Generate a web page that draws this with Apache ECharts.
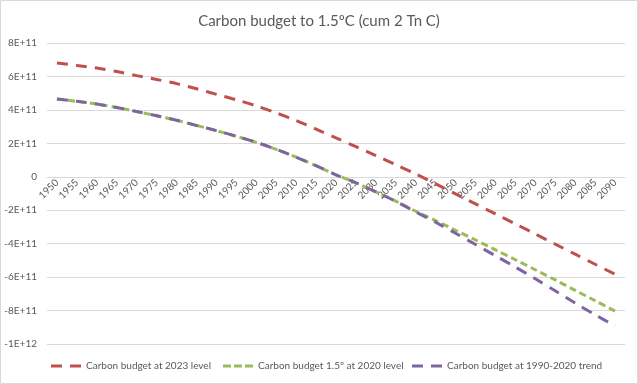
<!DOCTYPE html>
<html><head><meta charset="utf-8">
<script src="https://cdn.jsdelivr.net/npm/echarts@6/dist/echarts.min.js"></script>
<style>html,body{margin:0;padding:0;background:#fff}#c{width:638px;height:384px}</style>
</head><body><div id="c"></div>
<script>
const years = [];
for (let y = 1950; y <= 2090; y += 5) years.push(String(y));
// values in units of 1E11 (tonnes C)
const red2023 = [6.8,6.66,6.5,6.29,6.05,5.82,5.57,5.26,4.93,4.6,4.24,3.82,3.36,2.85,2.32,1.8,1.27,0.72,0.17,-0.42,-1.02,-1.62,-2.22,-2.82,-3.42,-4.03,-4.63,-5.23,-5.83];
const green2020 = [4.65,4.51,4.35,4.14,3.9,3.65,3.38,3.07,2.76,2.42,2.06,1.64,1.17,0.66,0.12,-0.36,-0.9,-1.46,-2.06,-2.62,-3.2,-3.78,-4.37,-4.96,-5.56,-6.17,-6.79,-7.41,-8.03];
const purpleTrend = [4.65,4.51,4.35,4.14,3.9,3.65,3.38,3.07,2.76,2.42,2.06,1.64,1.17,0.66,0.12,-0.36,-0.9,-1.47,-2.1,-2.72,-3.38,-4.05,-4.72,-5.4,-6.1,-6.82,-7.55,-8.25,-8.92];
const seriesNames = ['Carbon budget at 2023 level','Carbon budget 1.5º at 2020 level','Carbon budget at 1990-2020 trend'];
const scale = 1e11;
const toAbs = a => a.map(v => v * scale);

const chart = echarts.init(document.getElementById('c'));
const txt = '#595959';
const font = 'Lato, "Open Sans", sans-serif';
const colors = ['#C0504D', '#9BBB59', '#8064A2'];
function mk(name, data, color, dash) {
  return {
    name, type: 'line', data: toAbs(data), smooth: 0.3, symbol: 'none', showSymbol: false,
    lineStyle: { color, width: 3, type: dash, cap: 'butt' },
    itemStyle: { color }
  };
}
const longDashIcon = 'path://M0,0 H11 V3 H0 Z M19,0 H30 V3 H19 Z';
const shortDashIcon = 'path://M0,0 H8 V3 H0 Z M11,0 H19 V3 H11 Z M22,0 H30 V3 H22 Z';
function lg(name, left, icon) {
  return {
    top: 361, left, itemWidth: 30, itemHeight: 3, itemGap: 0, padding: 0,
    icon, textStyle: { color: txt, fontSize: 10, fontFamily: font, padding: [0, 0, 0, 0] },
    data: [name], selectedMode: false
  };
}
const gridTop = 43, gridBottom = 40, H = 384;
const yMin = -1e12, yMax = 8e11;
const plotH = H - gridTop - gridBottom;
const zeroOffset = -plotH * (0 - yMin) / (yMax - yMin);
chart.setOption({
  animation: false,
  textStyle: { fontFamily: font },
  graphic: [{ type: 'rect', shape: { x: 0.5, y: 0.5, width: 637, height: 383 }, style: { fill: 'none', stroke: '#d9d9d9', lineWidth: 1 }, silent: true }],
  title: {
    text: 'Carbon budget to 1.5ºC (cum 2 Tn C)', left: 'center', top: 9,
    textStyle: { color: txt, fontSize: 15, fontWeight: 'normal', fontFamily: font }
  },
  legend: [
    lg(seriesNames[0], 51, longDashIcon),
    lg(seriesNames[1], 223, shortDashIcon),
    lg(seriesNames[2], 412, longDashIcon)
  ],
  grid: { left: 47, right: 13, top: gridTop, bottom: gridBottom, containLabel: false },
  xAxis: {
    type: 'category', data: years, boundaryGap: true, position: 'bottom', offset: zeroOffset,
    axisLine: { onZero: false, lineStyle: { color: '#d9d9d9', width: 1 } },
    axisTick: { show: false },
    axisLabel: { rotate: 45, interval: 0, color: txt, fontSize: 10, margin: 4, fontFamily: font },
    splitLine: { show: false }
  },
  yAxis: {
    type: 'value', min: yMin, max: yMax, interval: 2e11,
    axisLine: { show: false }, axisTick: { show: false },
    axisLabel: { color: txt, fontSize: 10, margin: 10, fontFamily: font,
      formatter: v => v === 0 ? '0' : Number(v).toExponential().toUpperCase() },
    splitLine: { lineStyle: { color: '#d9d9d9', width: 1 } }
  },
  series: [
    mk(seriesNames[0], red2023, colors[0], [11, 8]),
    mk(seriesNames[1], green2020, colors[1], [7, 4]),
    mk(seriesNames[2], purpleTrend, colors[2], [11, 8])
  ]
});
</script></body></html>
